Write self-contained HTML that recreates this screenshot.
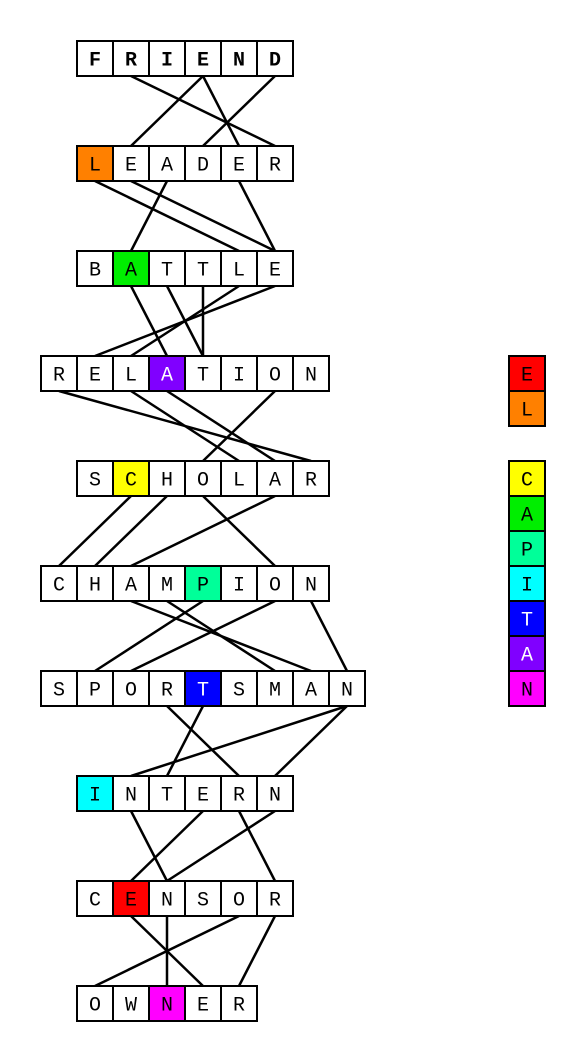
<!DOCTYPE html>
<html><head><meta charset="utf-8"><style>
html,body{margin:0;padding:0;background:#fff;}
svg{display:block;}
text{font-family:"Liberation Mono","DejaVu Sans Mono",monospace;font-size:20px;}
</style></head><body>
<svg id="chart" width="586" height="1062" viewBox="0 0 586 1062" xmlns="http://www.w3.org/2000/svg"></svg>
<script>
const words = ["FRIEND","LEADER","BATTLE","RELATION","SCHOLAR","CHAMPION","SPORTSMAN","INTERN","CENSOR","OWNER"];
const offsets = [1,1,1,0,1,0,0,1,1,1];
const highlightIdx = [-1,0,1,3,1,4,4,0,1,2];
const highlightColor = ["","#ff8000","#00ee00","#8000ff","#ffff00","#00ff99","#0000ff","#00ffff","#ff0000","#ff00ff"];
const links = [
 [[1,5],[3,1],[3,4],[5,3]],
 [[0,4],[1,5],[2,1],[4,5]],
 [[1,3],[2,4],[3,4],[4,2],[5,1]],
 [[0,6],[2,4],[3,5],[6,3]],
 [[1,0],[2,1],[5,2],[3,6]],
 [[2,7],[3,6],[4,1],[6,2],[7,8]],
 [[3,4],[4,2],[8,1],[8,5]],
 [[1,2],[3,1],[4,5],[5,2]],
 [[1,3],[2,2],[4,0],[5,4]]
];
const legendLetters = ["E","L","C","A","P","I","T","A","N"];
const legendColors = ["#ff0000","#ff8000","#ffff00","#00ee00","#00ff99","#00ffff","#0000ff","#8000ff","#ff00ff"];
const legendGroup = [0,0,1,1,1,1,1,1,1];

const svg=document.getElementById('chart');
const NS="http://www.w3.org/2000/svg";
const CW=36,CH=35,X0=41,Y0=41,RS=105;
function cx(r,i){return X0+offsets[r]*CW+i*CW+CW/2;}
function rowY(r){return Y0+r*RS;}
function mk(t,a){const e=document.createElementNS(NS,t);for(const k in a)e.setAttribute(k,a[k]);svg.appendChild(e);return e;}
links.forEach((ls,r)=>{ls.forEach((p,j)=>{
  const l=mk('line',{x1:cx(r,p[0]),y1:rowY(r)+CH,x2:cx(r+1,p[1]),y2:rowY(r+1),stroke:'#000','stroke-width':2.5});
  
  
});});
words.forEach((w,r)=>{
  for(let i=0;i<w.length;i++){
    const x=X0+offsets[r]*CW+i*CW,y=rowY(r);
    const hl=i===highlightIdx[r];
    const rc=mk('rect',{x:x,y:y,width:CW,height:CH,fill:hl?highlightColor[r]:'#fff',stroke:'#000','stroke-width':2});
    
    
    const dark=hl&&(highlightColor[r]==='#0000ff'||highlightColor[r]==='#8000ff');
    const t=mk('text',{x:x+CW/2,y:y+CH/2+7,'text-anchor':'middle',fill:dark?'#fff':'#000','font-weight':r===0?'bold':'normal'});
    t.textContent=w[i];
    
    
  }
});
legendLetters.forEach((c,i)=>{
  const y=356+i*35+(legendGroup[i]?35:0);
  const rc=mk('rect',{x:509,y:y,width:36,height:35,fill:legendColors[i],stroke:'#000','stroke-width':2});
  
  
  const dark=legendColors[i]==='#0000ff'||legendColors[i]==='#8000ff';
  const t=mk('text',{x:527,y:y+35/2+7,'text-anchor':'middle',fill:dark?'#fff':'#000'});
  t.textContent=c;
  
  
});
</script>
</body></html>
